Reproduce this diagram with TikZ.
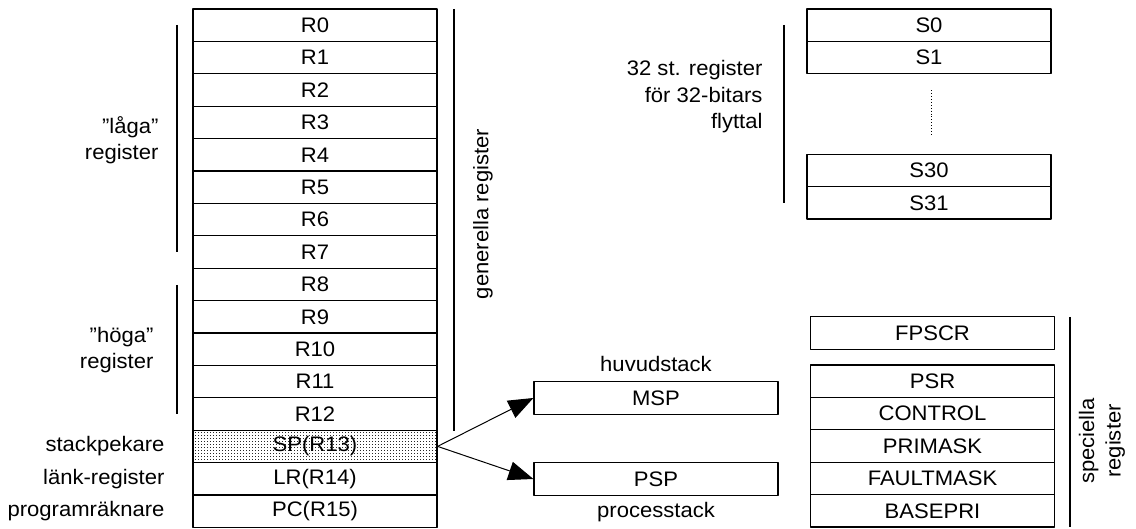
\documentclass[tikz,border=0pt]{standalone}
\usepackage{fontspec}
\setmainfont{Liberation Sans}[FakeStretch=1.05]
\usetikzlibrary{arrows.meta,patterns,calc,positioning}

\pgfdeclarepatternformonly{regdots}{\pgfpointorigin}{\pgfqpoint{3pt}{3pt}}{\pgfqpoint{3pt}{3pt}}{%
	\pgfpathrectangle{\pgfpointorigin}{\pgfqpoint{1pt}{1pt}}\pgfusepath{fill}}

\begin{document}
\begin{tikzpicture}[x=1pt, y=-1pt, line join=round,
	txt/.style={font=\fontsize{21}{26.5}\selectfont},
	regbox/.style={txt, draw, line width=1.2pt, minimum width=244pt, minimum height=32.4pt, inner sep=0pt},
	sidelbl/.style={txt, align=right, anchor=east},
	bracket/.style={line width=1.2pt},
	stackarrow/.style={line width=1pt, -{Triangle[length=25pt, width=19pt]}}]
	
	\useasboundingbox (0,0) rectangle (1136,529);
	
	% --- generella register R0..R15 ---
	\foreach \i in {0,...,12}
		\node[regbox] (R\i) at (315, 25.2+32.4*\i) {R\i};
	\node[regbox, pattern=regdots, pattern color=black!85] (SP) at (315, 446.4) {SP(R13)};
	\node[regbox] (LR) at (315, 478.8) {LR(R14)};
	\node[regbox] (PC) at (315, 511.2) {PC(R15)};
	
	% etiketter till vänster
	\node[sidelbl] (lowlbl) at (162, 140) {”låga”\\register};
	\node[sidelbl] (highlbl) at (157, 350) {”höga”\\register};
	\node[sidelbl] (splbl) at (168, 446.4) {stackpekare};
	\node[sidelbl] (lrlbl) at (168, 478.8) {länk-register};
	\node[sidelbl] (pclbl) at (168, 511.2) {programräknare};
	
	% klamrar
	\draw[bracket] (177,25) -- (177,252);
	\draw[bracket] (177,285) -- (177,414);
	\draw[bracket] (454,9) -- (454,431);
	\node[txt, rotate=90] (genlbl) at (483,214) {generella register};
	
	% --- stackpekare MSP / PSP ---
	\node[regbox] (MSP) at (656, 398) {MSP};
	\node[regbox] (PSP) at (656, 479) {PSP};
	\node[txt, above=6pt of MSP.north] (msplbl) {huvudstack};
	\node[txt, below=3pt of PSP.south] (psplbl) {processtack};
	\draw[stackarrow] (SP.east) -- (MSP.west);
	\draw[stackarrow] (SP.east) -- (PSP.west);
	
	% --- flyttalsregister S0..S31 ---
	\node[regbox] (S0) at (929, 25.2) {S0};
	\node[regbox] (S1) at (929, 57.6) {S1};
	\node[regbox] (S30) at (929, 170.4) {S30};
	\node[regbox] (S31) at (929, 202.8) {S31};
	\draw[dotted, line width=0.9pt] ($(S1.south)+(2,16)$) -- ($(S30.north)+(2,-17)$);
	\draw[bracket] (784,25) -- (784,203);
	\node[sidelbl] (fplbl) at (766, 97) {32 st. register\\för 32-bitars\\flyttal};
	
	% --- speciella register ---
	\node[regbox] (FPSCR) at (932.5, 333) {FPSCR};
	\node[regbox] (PSR) at (932.5, 381.2) {PSR};
	\node[regbox] (CONTROL) at (932.5, 413.6) {CONTROL};
	\node[regbox] (PRIMASK) at (932.5, 446) {PRIMASK};
	\node[regbox] (FAULTMASK) at (932.5, 478.4) {FAULTMASK};
	\node[regbox] (BASEPRI) at (932.5, 510.8) {BASEPRI};
	\draw[bracket] (1070,317) -- (1070,527);
	\node[txt, rotate=90, align=center] (speclbl) at (1102,441) {speciella\\register};
	
\end{tikzpicture}
\end{document}
